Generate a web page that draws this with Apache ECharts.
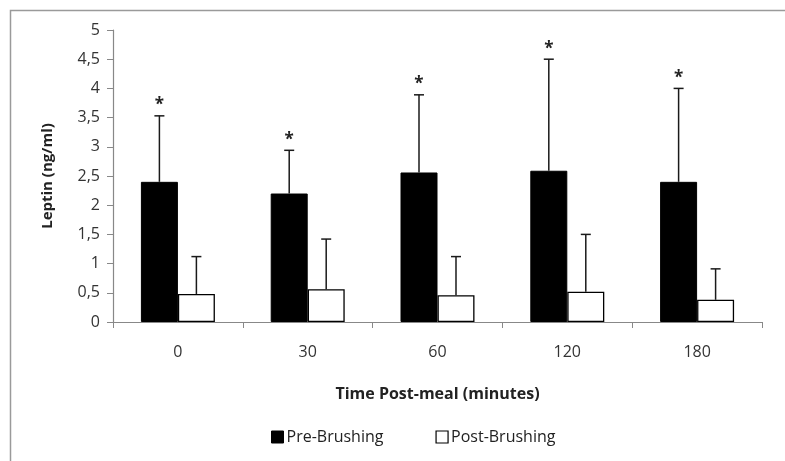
<!DOCTYPE html>
<html>
<head>
<meta charset="utf-8">
<script src="https://cdn.jsdelivr.net/npm/echarts@6/dist/echarts.min.js"></script>
<style>html,body{margin:0;padding:0;background:#fff}#c{width:785px;height:461px}</style>
</head>
<body>
<div id="c"></div>
<script>
var categories = ['0', '30', '60', '120', '180'];
var preValues = [2.40, 2.20, 2.56, 2.59, 2.40];
var preErrTop = [3.53, 2.94, 3.89, 4.50, 4.00];
var postValues = [0.48, 0.56, 0.46, 0.52, 0.38];
var postErrTop = [1.12, 1.42, 1.12, 1.50, 0.91];
var significant = ['*', '*', '*', '*', '*'];
var yTicks = [0, 0.5, 1, 1.5, 2, 2.5, 3, 3.5, 4, 4.5, 5];

var FONT = 'Open Sans';
var BAR_FRAC = 0.285;

function errItem(sign, withStar) {
  return function (params, api) {
    var idx = api.value(0);
    var base = api.coord([idx, api.value(1)]);
    var top = api.coord([idx, api.value(2)]);
    var band = api.size([1, 0])[0];
    var x = base[0] + sign * band * BAR_FRAC / 2;
    var children = [
      {type: 'line', shape: {x1: x, y1: base[1], x2: x, y2: top[1]}, style: {stroke: '#1a1a1a', lineWidth: 1.5}},
      {type: 'line', shape: {x1: x - 5, y1: top[1], x2: x + 5, y2: top[1]}, style: {stroke: '#1a1a1a', lineWidth: 1.5}}
    ];
    if (withStar) {
      children.push({type: 'text', style: {text: significant[idx], x: x, y: top[1] - 2, textAlign: 'center', textVerticalAlign: 'bottom', font: 'bold 17px ' + FONT, fill: '#222'}});
    }
    return {type: 'group', children: children};
  };
}

var chart = echarts.init(document.getElementById('c'));
chart.setOption({
  animation: false,
  backgroundColor: '#fff',
  graphic: [{type: 'rect', shape: {x: 10.5, y: 10.5, width: 820, height: 520}, style: {fill: 'none', stroke: '#9a9a9a', lineWidth: 1.5}, silent: true}],
  grid: {left: 113, right: 23, top: 30, bottom: 139},
  legend: {
    left: 266, top: 424,
    itemWidth: 12, itemHeight: 12, itemGap: 52,
    textStyle: {fontFamily: FONT, fontSize: 16, color: '#222', padding: [0, 0, 0, -2]},
    data: [
      {name: 'Pre-Brushing', icon: 'rect', itemStyle: {color: '#000', borderColor: '#000', borderWidth: 1}},
      {name: 'Post-Brushing', icon: 'rect', itemStyle: {color: '#fff', borderColor: '#000', borderWidth: 1.2}}
    ]
  },
  xAxis: {
    type: 'category', data: categories,
    name: 'Time Post-meal (minutes)', nameLocation: 'middle', nameGap: 64,
    nameTextStyle: {fontFamily: FONT, fontSize: 16, fontWeight: 'bold', color: '#222'},
    axisLine: {lineStyle: {color: '#888', width: 1.2}},
    axisTick: {show: true, length: 6, lineStyle: {color: '#888'}},
    axisLabel: {fontFamily: FONT, fontSize: 16, color: '#333', margin: 22}
  },
  yAxis: {
    type: 'value', min: 0, max: 5, interval: 0.5,
    name: 'Leptin (ng/ml)', nameLocation: 'middle', nameGap: 58, nameRotate: 90,
    nameTextStyle: {fontFamily: FONT, fontSize: 15, fontWeight: 'bold', color: '#222'},
    axisLine: {show: true, lineStyle: {color: '#888', width: 1.2}},
    axisTick: {show: true, length: 6, lineStyle: {color: '#888'}},
    splitLine: {show: false},
    axisLabel: {fontFamily: FONT, fontSize: 16, color: '#333', margin: 13,
      customValues: yTicks,
      formatter: function (v) { return String(v).replace('.', ','); }}
  },
  series: [
    {name: 'Pre-Brushing', type: 'bar', data: preValues, barWidth: (BAR_FRAC * 100) + '%', barGap: '0%',
      itemStyle: {color: '#000', borderColor: '#000', borderWidth: 1}},
    {name: 'Post-Brushing', type: 'bar', data: postValues, barWidth: (BAR_FRAC * 100) + '%', barGap: '0%',
      itemStyle: {color: '#fff', borderColor: '#000', borderWidth: 1.3}},
    {name: 'preErr', type: 'custom', renderItem: errItem(-1, true), z: 5,
      data: categories.map(function (c, i) { return [i, preValues[i], preErrTop[i]]; })},
    {name: 'postErr', type: 'custom', renderItem: errItem(1, false), z: 5,
      data: categories.map(function (c, i) { return [i, postValues[i], postErrTop[i]]; })}
  ]
});
</script>
</body>
</html>
